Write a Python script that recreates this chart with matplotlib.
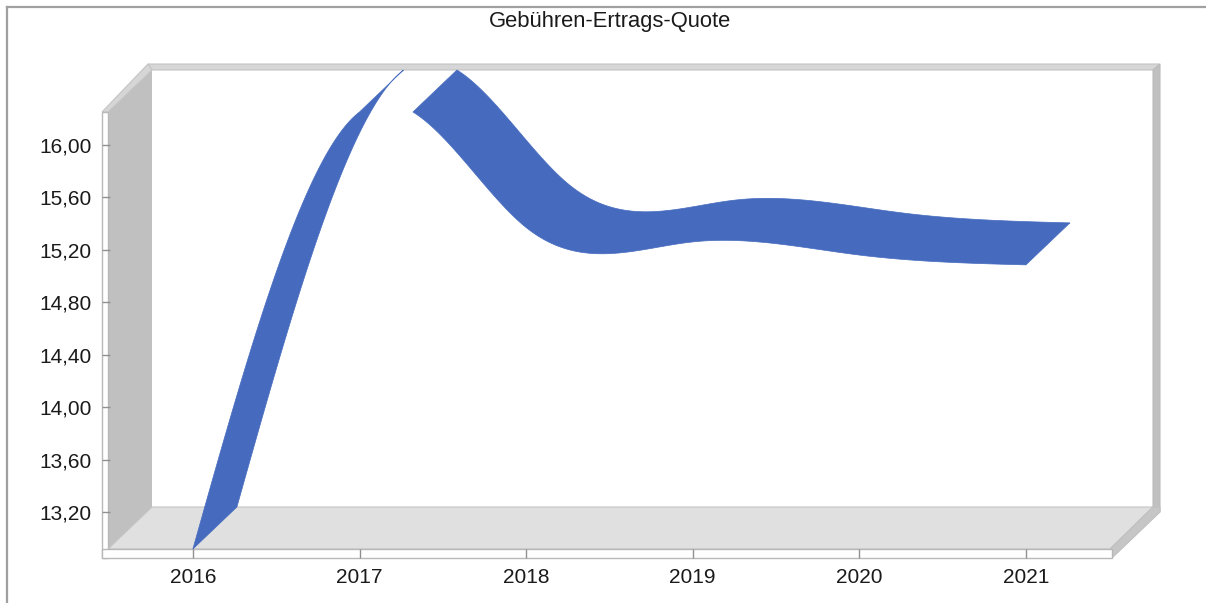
import numpy as np
import matplotlib
matplotlib.use("Agg")
import matplotlib.pyplot as plt
from matplotlib.patches import Polygon
from matplotlib.ticker import FuncFormatter

# ---- data ----
title = "Gebühren-Ertrags-Quote"
years = [2016, 2017, 2018, 2019, 2020, 2021]
values = [12.92, 16.25, 15.37, 15.26, 15.16, 15.085]
y_ticks = [13.20, 13.60, 14.00, 14.40, 14.80, 15.20, 15.60, 16.00]

W, H = 1206, 603
plt.rcParams['font.family'] = ['Liberation Sans', 'DejaVu Sans']
fig = plt.figure(figsize=(W / 100, H / 100), dpi=100)

# ---- decoration axes in pixel space (3D box) ----
deco = fig.add_axes([0, 0, 1, 1], zorder=0)
deco.set_xlim(0, W)
deco.set_ylim(H, 0)
deco.axis('off')

def poly(pts, fc, ec='none', lw=1.0):
    deco.add_patch(Polygon(pts, closed=True, facecolor=fc, edgecolor=ec, linewidth=lw))

# outer frame lines
deco.plot([7, 7], [7, H], color='#a0a0a0', lw=1.6)
deco.plot([7, W], [7, 7], color='#a0a0a0', lw=1.6)
# back wall top thickness
poly([(148, 64), (1160, 64), (1153, 70), (152, 70)], '#d6d6d6', '#c4c4c4', 0.8)
# back wall right thickness
poly([(1153, 70), (1160, 64), (1160, 512), (1153, 507)], '#c0c0c0', '#bcbcbc', 0.8)
# left wall
poly([(108, 112), (152, 70), (152, 507), (108, 549)], '#c0c0c0')
# left wall top bevel
poly([(102, 112), (148, 64), (152, 70), (108, 112)], '#d6d6d6', '#c4c4c4', 0.8)
# floor
poly([(108, 549), (152, 507), (1153, 507), (1110, 549)], '#e0e0e0', '#c4c4c4', 0.8)
# floor right bevel
poly([(1110, 549), (1153, 507), (1160, 507), (1160, 512), (1112, 558)], '#c6c6c6', '#c0c0c0', 0.8)
# front strips
poly([(102, 112), (108, 112), (108, 558), (102, 558)], 'white', '#b8b8b8', 1.0)
poly([(102, 549), (1112, 549), (1112, 558), (102, 558)], 'white', '#b8b8b8', 1.0)

# ---- data axes on the front plane ----
x_left, x_right = 109.6, 1109.2
y_top, y_bot = 112, 549
ax = fig.add_axes([x_left / W, 1 - y_bot / H, (x_right - x_left) / W, (y_bot - y_top) / H], zorder=1)
ax.patch.set_alpha(0)
ax.set_xlim(years[0] - 0.5, years[-1] + 0.5)
ymin, ymax = min(values), max(values)
ax.set_ylim(ymin, ymax)
for s in ax.spines.values():
    s.set_visible(False)

ax.set_xticks(years)
ax.set_xticklabels([str(y) for y in years])
ax.set_yticks(y_ticks)
ax.yaxis.set_major_formatter(FuncFormatter(lambda v, p: f"{v:.2f}".replace('.', ',')))
ax.tick_params(axis='y', direction='out', length=5.8, width=1, color='#909090',
               labelsize=15, labelcolor='#1a1a1a', pad=7)
ax.tick_params(axis='x', direction='out', length=6.5, width=1, color='#909090',
               labelsize=15, labelcolor='#1a1a1a', pad=7.5)

# natural cubic spline (smoothed line like the original)
def natural_spline(x, y, xs):
    x = np.asarray(x, float); y = np.asarray(y, float)
    n = len(x)
    h = np.diff(x)
    A = np.zeros((n, n)); r = np.zeros(n)
    A[0, 0] = 1; A[-1, -1] = 1
    for i in range(1, n - 1):
        A[i, i - 1] = h[i - 1]
        A[i, i] = 2 * (h[i - 1] + h[i])
        A[i, i + 1] = h[i]
        r[i] = 6 * ((y[i + 1] - y[i]) / h[i] - (y[i] - y[i - 1]) / h[i - 1])
    M = np.linalg.solve(A, r)
    idx = np.clip(np.searchsorted(x, xs) - 1, 0, n - 2)
    x0, x1 = x[idx], x[idx + 1]
    hh = x1 - x0
    a = (x1 - xs) / hh; b = (xs - x0) / hh
    return a * y[idx] + b * y[idx + 1] + ((a ** 3 - a) * M[idx] + (b ** 3 - b) * M[idx + 1]) * hh ** 2 / 6

xs = np.linspace(years[0], years[-1], 4000)
vs = natural_spline(years, values, xs)

# depth offset (44 px right, 42 px up) expressed in data units
p0 = ax.transData.transform([(years[0], ymin)])[0]
q0 = ax.transData.inverted().transform([p0 + np.array([44.0, 42.0])])[0]
ddx, ddy = q0[0] - years[0], q0[1] - ymin

# split into runs inside [ymin, ymax] (3D clipping of the ribbon)
eps = 1e-9
inside = (vs <= ymax + eps) & (vs >= ymin - eps)
runs = []
cur = []
for i in range(len(xs)):
    if inside[i]:
        if not cur and i > 0:
            lim = ymax if vs[i - 1] > ymax else ymin
            f = (lim - vs[i - 1]) / (vs[i] - vs[i - 1])
            cur.append((xs[i - 1] + f * (xs[i] - xs[i - 1]), lim))
        cur.append((xs[i], vs[i]))
    else:
        if cur:
            lim = ymax if vs[i] > ymax else ymin
            f = (lim - vs[i - 1]) / (vs[i] - vs[i - 1])
            cur.append((xs[i - 1] + f * (xs[i] - xs[i - 1]), lim))
            runs.append(cur)
            cur = []
if cur:
    runs.append(cur)

blue = '#466BBE'
for run in runs:
    front = np.array(run)
    back = front + np.array([ddx, ddy])
    pts = np.vstack([front, back[::-1]])
    ax.add_patch(Polygon(pts, closed=True, facecolor=blue, edgecolor=blue,
                         linewidth=0.5, clip_on=False, zorder=3))

fig.text(610 / W, 1 - 22 / H, title, ha='center', va='center', fontsize=15.8, color='#1a1a1a')

fig.savefig('out.png', dpi=100)
